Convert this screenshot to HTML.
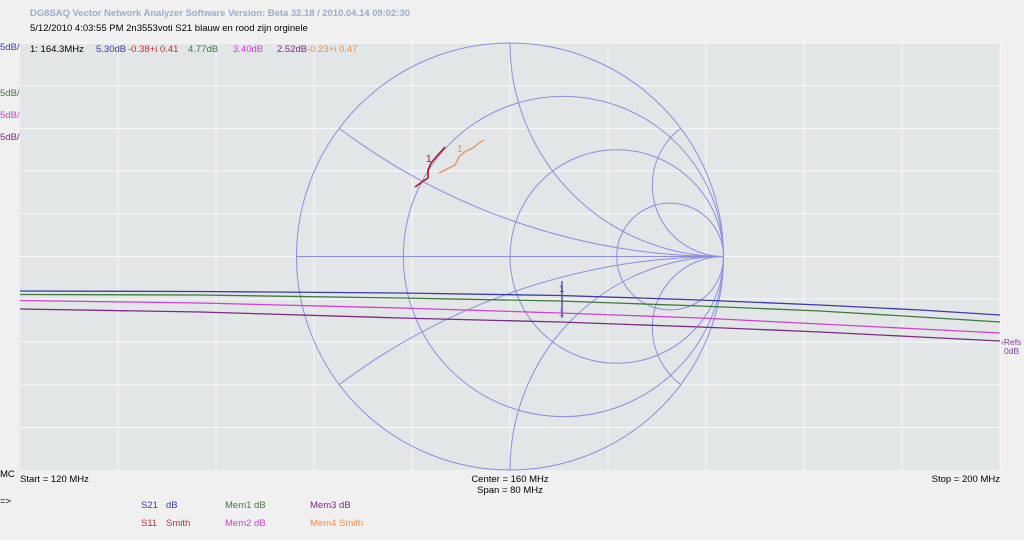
<!DOCTYPE html>
<html><head><meta charset="utf-8"><style>
html,body{margin:0;padding:0;background:#f0f0f0;width:1024px;height:540px;max-height:540px;overflow:hidden;font-family:"Liberation Sans",sans-serif}
svg{position:absolute;left:0;top:0;display:block;width:1024px;height:540px;overflow:hidden}
</style></head><body>
<svg width="1024" height="540" viewBox="0 0 1024 540" font-family="Liberation Sans, sans-serif">
<rect x="0" y="0" width="1024" height="540" fill="#f0f0f0"/>
<text x="30" y="16" font-size="9.5" font-weight="bold" fill="#9aaecb" textLength="380">DG8SAQ Vector Network Analyzer Software   Version:  Beta 32.18 / 2010.04.14 09:02:30</text>
<text x="30" y="31" font-size="9.5" fill="#000">5/12/2010  4:03:55 PM   2n3553voti S21 blauw en rood zijn orginele</text>
<rect x="20" y="43" width="980" height="427" fill="#e3e6e6"/>
<g stroke="#fafafa" stroke-width="1">
<line x1="118" y1="43" x2="118" y2="470"/><line x1="216" y1="43" x2="216" y2="470"/><line x1="314" y1="43" x2="314" y2="470"/><line x1="412" y1="43" x2="412" y2="470"/><line x1="510" y1="43" x2="510" y2="470"/><line x1="608" y1="43" x2="608" y2="470"/><line x1="706" y1="43" x2="706" y2="470"/><line x1="804" y1="43" x2="804" y2="470"/><line x1="902" y1="43" x2="902" y2="470"/><line x1="1000" y1="43" x2="1000" y2="470"/>
<line x1="20" y1="43" x2="1000" y2="43"/><line x1="20" y1="85.7" x2="1000" y2="85.7"/><line x1="20" y1="128.4" x2="1000" y2="128.4"/><line x1="20" y1="171" x2="1000" y2="171"/><line x1="20" y1="213.8" x2="1000" y2="213.8"/><line x1="20" y1="256.5" x2="1000" y2="256.5"/><line x1="20" y1="299" x2="1000" y2="299"/><line x1="20" y1="342" x2="1000" y2="342"/><line x1="20" y1="384.8" x2="1000" y2="384.8"/><line x1="20" y1="427.5" x2="1000" y2="427.5"/>
</g>
<defs><clipPath id="c"><circle cx="510" cy="256.5" r="213.5"/></clipPath></defs>
<g fill="none" stroke="#8c8ce0" stroke-width="1">
<circle cx="510" cy="256.5" r="213.5"/>
<g clip-path="url(#c)">
<line x1="296" y1="256.5" x2="724" y2="256.5"/>
<circle cx="563.4" cy="256.5" r="160.1"/>
<circle cx="616.75" cy="256.5" r="106.75"/>
<circle cx="670.1" cy="256.5" r="53.4"/>
<circle cx="723.5" cy="-384" r="640.5"/>
<circle cx="723.5" cy="897" r="640.5"/>
<circle cx="723.5" cy="43" r="213.5"/>
<circle cx="723.5" cy="470" r="213.5"/>
<circle cx="723.5" cy="185.3" r="71.2"/>
<circle cx="723.5" cy="327.7" r="71.2"/>
</g></g>
<g fill="none" stroke-width="1.3">
<polyline stroke="#3a3aa8" points="20,291 200,291.5 400,293 560,295.5 700,300 820,305 920,310 1000,315"/>
<polyline stroke="#3e7a3e" points="20,294.5 200,295 400,298 560,301 700,306 820,311 920,317 1000,322"/>
<polyline stroke="#d040d0" points="20,300.5 200,303 400,308 560,313 700,318 820,324 920,329 1000,333"/>
<polyline stroke="#7a2a80" points="20,309 200,312 400,318 560,322 700,327 820,332 920,337 1000,341"/>
<polyline stroke="#b01818" stroke-width="1.6" points="415,187 422,182 428,178 428,170 431,163 437,156 445,147"/>
<polyline stroke="#e89050" points="439,173 447,169 455,165 459,157 466,151 473,148 479,143 484,140"/>
<line x1="562" y1="281" x2="562" y2="318" stroke="#4040b0"/>
</g>
<text x="426" y="162" font-size="10" fill="#b01818">1</text>
<text x="457" y="152" font-size="10" fill="#e89050">1</text>
<text x="559" y="292" font-size="9" fill="#3a3aa8">1</text>
<text x="559" y="316" font-size="9" fill="#a040a0">1</text>
<text x="1001" y="345" font-size="8.5" fill="#8040a0">‹Refs</text>
<text x="1004" y="354" font-size="8.5" fill="#8040a0">0dB</text>
<g font-size="9.5">
<text x="0" y="50" fill="#3a3aa8">5dB/</text>
<text x="0" y="96" fill="#3e7a3e">5dB/</text>
<text x="0" y="118" fill="#d040d0">5dB/</text>
<text x="0" y="140" fill="#7a2a80">5dB/</text>
<text x="30" y="52" fill="#000">1:  164.3MHz</text>
<text x="96" y="52" fill="#3a3aa8">5.30dB</text>
<text x="128" y="52" fill="#c03030">-0.38+i 0.41</text>
<text x="188" y="52" fill="#3e7a3e">4.77dB</text>
<text x="233" y="52" fill="#d040d0">3.40dB</text>
<text x="277" y="52" fill="#7a2a80">2.52dB</text>
<text x="307" y="52" fill="#e89050">-0.23+i 0.47</text>
<text x="0" y="477" fill="#000">MC</text>
<text x="20" y="482" fill="#000">Start = 120 MHz</text>
<text x="510" y="482" fill="#000" text-anchor="middle">Center = 160 MHz</text>
<text x="510" y="493" fill="#000" text-anchor="middle">Span = 80 MHz</text>
<text x="1000" y="482" fill="#000" text-anchor="end">Stop = 200 MHz</text>
<text x="0" y="504" fill="#000">=&gt;</text>
<text x="141" y="508" fill="#3a3aa8">S21</text><text x="166" y="508" fill="#3a3aa8">dB</text>
<text x="141" y="526" fill="#c03030">S11</text><text x="166" y="526" fill="#c03030">Smith</text>
<text x="225" y="508" fill="#3e7a3e">Mem1  dB</text>
<text x="225" y="526" fill="#d040d0">Mem2  dB</text>
<text x="310" y="508" fill="#7a2a80">Mem3  dB</text>
<text x="310" y="526" fill="#e89050">Mem4  Smith</text>
</g>
</svg>
</body></html>
